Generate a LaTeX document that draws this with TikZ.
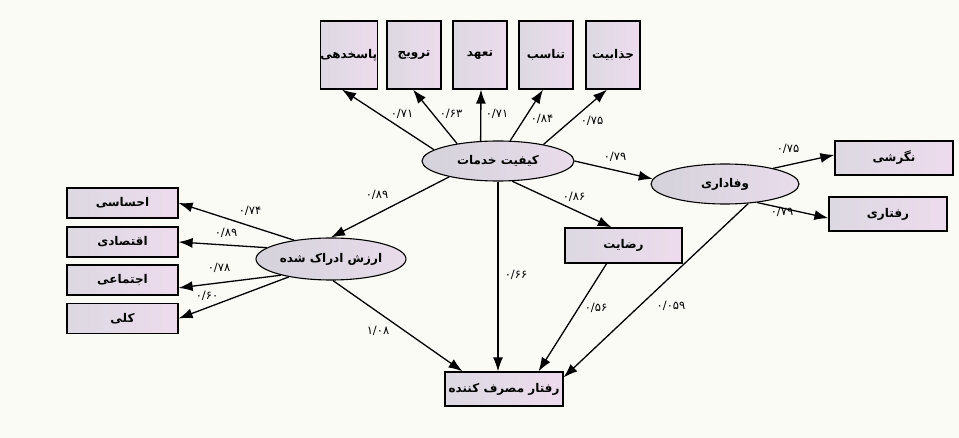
\documentclass[tikz,border=0pt]{standalone}
\usepackage{fontspec}
\newfontfamily\arabicfont[Script=Arabic]{DejaVu Sans}
\TeXXeTstate=1
\usetikzlibrary{arrows.meta,shapes.geometric}
\definecolor{bgc}{RGB}{251,251,246}
\definecolor{boxL}{RGB}{220,217,226}
\definecolor{boxR}{RGB}{237,219,237}
\definecolor{ellL}{RGB}{212,210,218}
\definecolor{ellR}{RGB}{233,220,235}
\tikzset{
  box/.style={draw=black, line width=1.2pt, left color=boxL, right color=boxR,
    inner sep=0pt, font=\arabicfont\bfseries\fontsize{12}{14}\selectfont},
  topbox/.style={box, minimum width=54pt, minimum height=68pt},
  sidebox/.style={box, minimum width=111pt, minimum height=30pt},
  midbox/.style={box, minimum width=118pt, minimum height=34pt},
  ell/.style={ellipse, draw=black, line width=1.1pt, left color=ellL, right color=ellR,
    inner sep=0pt, font=\arabicfont\bfseries\fontsize{12}{14}\selectfont},
  arr/.style={-{Latex[length=14pt,width=10pt]}, line width=1.3pt},
  lbl/.style={font=\arabicfont\fontsize{11.5}{13}\selectfont, inner sep=1pt}
}
\begin{document}
\begin{tikzpicture}[x=1pt,y=-1pt]
\fill[bgc] (0,0) rectangle (959,438);
\useasboundingbox (0,0) rectangle (959,438);
% top boxes
\node[topbox] (b1) at (348.7,55) {\beginR پاسخدهی\endR};
\node[topbox] (b2) at (414,55) {\beginR ترویج\endR};
\node[topbox] (b3) at (480,55) {\beginR تعهد\endR};
\node[topbox] (b4) at (546,55) {\beginR تناسب\endR};
\node[topbox] (b5) at (613,55) {\beginR جذابیت\endR};
% ellipses
\node[ell, minimum width=152pt, minimum height=40pt] (ks) at (498,161) {\beginR کیفیت خدمات\endR};
\node[ell, minimum width=148pt, minimum height=40pt] (vf) at (725,184) {\beginR وفاداری\endR};
\node[ell, minimum width=150pt, minimum height=42pt] (ar) at (331,259) {\beginR ارزش ادراک شده\endR};
% other boxes
\node[midbox] (ng) at (894,158) {\beginR نگرشی\endR};
\node[midbox] (rf) at (888,214) {\beginR رفتاری\endR};
\node[midbox, minimum width=117pt, minimum height=35pt] (rz) at (623.5,245.5) {\beginR رضایت\endR};
\node[midbox] (rm) at (504,389) {\beginR رفتار مصرف کننده\endR};
\node[sidebox] (e1) at (122.5,203) {\beginR احساسی\endR};
\node[sidebox] (e2) at (122.5,242) {\beginR اقتصادی\endR};
\node[sidebox] (e3) at (122.5,280) {\beginR اجتماعی\endR};
\node[sidebox] (e4) at (122.5,318.5) {\beginR کلی\endR};
% arrows to top boxes
\draw[arr] (ks.170) -- (b1.south -| 342,0);
\draw[arr] (ks.157) -- (b2.south -| 413,0);
\draw[arr] (ks.131) -- (b3.south -| 481,0);
\draw[arr] (ks.59) -- (b4.south -| 543,0);
\draw[arr] (ks.20) -- (b5.south -| 607,0);
% other arrows
\draw[arr] (ks.east) -- (vf.176);
\draw[arr] (vf.18) -- (ng.177);
\draw[arr] (vf.330) -- (rf.184);
\draw[arr] (ks.198) -- (ar.north);
\draw[arr] (ks.305) -- (rz.123);
\draw[arr] (ks.south) -- (ks.south |- rm.north);
\draw[arr] (ar.275) -- (rm.157);
\draw[arr] (rz.227) -- (rm.27);
\draw[arr] (vf.320) -- (rm.11);
\draw[arr] (ar.153) -- (e1.east);
\draw[arr] (ar.170) -- (e2.east);
\draw[arr] (ar.198) -- (e3.352);
\draw[arr] (ar.203) -- (e4.east);
% labels
\node[lbl] (l1) at (402,114) {۰/۷۱};
\node[lbl] (l2) at (451,114) {۰/۶۳};
\node[lbl] (l3) at (497,114) {۰/۷۱};
\node[lbl] (l4) at (542,119) {۰/۸۴};
\node[lbl] (l5) at (592,121) {۰/۷۵};
\node[lbl] (l6) at (615,157) {۰/۷۹};
\node[lbl] (l7) at (788,149) {۰/۷۵};
\node[lbl] (l8) at (782,212) {۰/۷۹};
\node[lbl] (l9) at (574,197) {۰/۸۶};
\node[lbl] (l10) at (377,195) {۰/۸۹};
\node[lbl] (l11) at (516,275) {۰/۶۶};
\node[lbl] (l12) at (378,331) {۱/۰۸};
\node[lbl] (l13) at (596,308) {۰/۵۶};
\node[lbl] (l14) at (671,306) {۰/۰۵۹};
\node[lbl] (l15) at (250,211) {۰/۷۴};
\node[lbl] (l16) at (226,233) {۰/۸۹};
\node[lbl] (l17) at (219,268) {۰/۷۸};
\node[lbl] (l18) at (207,296) {۰/۶۰};
\end{tikzpicture}
\end{document}
